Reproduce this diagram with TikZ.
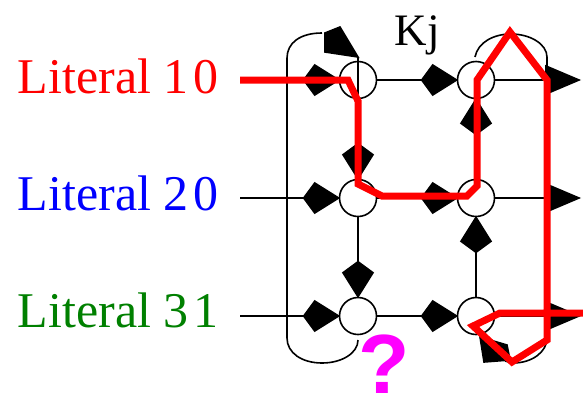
\documentclass[tikz,border=0pt]{standalone}
\usepackage{fontspec}
\setmainfont{Liberation Serif}
\newfontfamily\qfont{Liberation Sans}
\definecolor{litgreen}{RGB}{0,128,0}
\definecolor{litred}{RGB}{255,0,0}
\definecolor{litblue}{RGB}{0,0,255}
\definecolor{qmag}{RGB}{255,0,255}
\begin{document}
\begin{tikzpicture}[x=1pt,y=-1pt,line width=1.6pt,
  cnode/.style={circle,draw,minimum size=37pt,inner sep=0pt},
  kitepic/.pic={\filldraw[line join=miter] (0,0) -- (-24,15) -- (-35,0) -- (-24,-15) -- cycle;},
  tripic/.pic={\filldraw (0,0) -- (-33,14) -- (-33,-14) -- cycle;},
  tip/.style={pos=1,sloped,allow upside down},
  lit/.style={anchor=base west,inner sep=0pt,font=\fontsize{50}{60}\selectfont},
  redpath/.style={draw=litred,line width=7pt}]
\useasboundingbox (0,0) rectangle (583,397);
% nodes
\node[cnode] (a1) at (358,80) {};
\node[cnode] (a2) at (476,80) {};
\node[cnode] (b1) at (358,198) {};
\node[cnode] (b2) at (476,198) {};
\node[cnode] (c1) at (358,316) {};
\node[cnode] (c2) at (476,316) {};
\coordinate (la) at (240,80);
\coordinate (lb) at (240,198);
\coordinate (lc) at (240,316);
\coordinate (ra) at (579,80);
\coordinate (rb) at (579,198);
\coordinate (rc) at (579,316);
% connectors
\draw (la) -- (a1) pic[tip]{kitepic};
\draw (lb) -- (b1) pic[tip]{kitepic};
\draw (lc) -- (c1) pic[tip]{kitepic};
\draw (a1) -- (a2) pic[tip]{kitepic};
\draw (b1) -- (b2) pic[tip]{kitepic};
\draw (c1) -- (c2) pic[tip]{kitepic};
\draw (a1) -- (b1) pic[tip]{kitepic};
\draw (b1) -- (c1) pic[tip]{kitepic};
\draw (b2) -- (a2) pic[tip]{kitepic};
\draw (c2) -- (b2) pic[tip]{kitepic};
\draw (a2) -- (ra) pic[tip]{tripic};
\draw (b2) -- (rb) pic[tip]{tripic};
\draw (c2) -- (rc) pic[tip]{tripic};
% left bracket
\draw (322,33) .. controls (300,33) and (287,43) .. (287,58) -- (287,338)
  .. controls (287,353) and (302,363) .. (322,363)
  .. controls (342,363) and (358,353) .. (358,340);
\filldraw[line join=miter] (325,33) -- (340,27) -- (358,57) -- (325,52) -- cycle;
\draw (358,57) -- (358,97);
% right bracket
\draw (475,57) .. controls (478,42) and (494,34) .. (511,34)
  .. controls (530,34) and (547,44) .. (547,57) -- (547,338)
  .. controls (547,352) and (532,363) .. (513,363) -- (505,361);
\filldraw (480,337) -- (484,362) -- (510,360) -- (507,345) -- cycle;
% red path
\draw[redpath] (240,80) -- (348,80) -- (358,101) -- (358,184) -- (382,196)
  -- (467,196) -- (477,186) -- (477,80) -- (510,32) -- (547,80) -- (547,340)
  -- (512,362) -- (473,326) -- (500,313) -- (583,313);
% texts
\node[anchor=base west,inner sep=0pt,font=\fontsize{45}{54}\selectfont] (kj) at (394,45) {Kj};
\node[lit,text=litred] (l1) at (17,93) {Literal 1\hspace{0.1em}0};
\node[lit,text=litblue] (l2) at (17,210) {Literal 2\hspace{0.1em}0};
\node[lit,text=litgreen] (l3) at (17,327) {Literal 3\hspace{0.1em}1};
\node[anchor=base,inner sep=0pt,text=qmag,font=\qfont\bfseries\fontsize{84}{96}\selectfont] (q) at (384,393) {?};
\end{tikzpicture}
\end{document}
